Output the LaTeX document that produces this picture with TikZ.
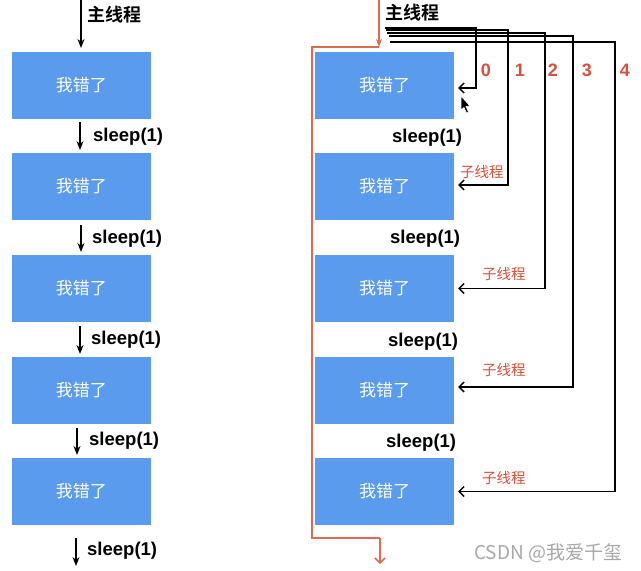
\documentclass[tikz,border=0pt]{standalone}
\usepackage{fontspec}
\setmainfont{Liberation Sans}
\newfontfamily\cjk{Noto Sans CJK SC}
\newfontfamily\cjkb{Noto Sans CJK SC}[BoldFont={* Bold}]
\usetikzlibrary{arrows.meta}
\definecolor{boxblue}{HTML}{5A9BEE}
\definecolor{redline}{HTML}{E06A4E}
\definecolor{redtext}{HTML}{D9503A}
\definecolor{wmgray}{HTML}{A8A8A8}
\begin{document}
\begin{tikzpicture}[x=1pt,y=-1pt,
  blk/.style={fill=boxblue,draw=none,minimum width=139pt,minimum height=67pt,inner sep=0pt,
    text=white,font=\cjk\fontsize{17}{19}\selectfont},
  down/.style={draw=black,line width=1.3pt,-{Stealth[length=9pt,width=7pt]}},
  lbl/.style={anchor=west,inner sep=0pt,font=\bfseries\fontsize{18.5}{20}\selectfont},
  mainlbl/.style={anchor=west,inner sep=0pt,font=\cjkb\bfseries\fontsize{18}{20}\selectfont},
  thr/.style={draw=black,line width=1.2pt,-{Straight Barb[length=5pt,width=10pt,line width=1.4pt]}},
  sub/.style={anchor=west,inner sep=0pt,text=redtext,font=\cjk\fontsize{14.5}{16}\selectfont},
  num/.style={inner sep=0pt,text=redtext,font=\bfseries\fontsize{18}{20}\selectfont},
  redp/.style={draw=redline,line width=1.5pt}]
\useasboundingbox (0,0) rectangle (641,571);
\fill[white] (0,0) rectangle (641,571);

% ---------- left column ----------
\node[blk] (l1) at (81.5,85.5) {我错了};
\node[blk] (l2) at (81.5,186.5) {我错了};
\node[blk] (l3) at (81.5,288.5) {我错了};
\node[blk] (l4) at (81.5,390.5) {我错了};
\node[blk] (l5) at (81.5,491.5) {我错了};

\coordinate (lm0) at (81,0);
\coordinate (lm1) at (81,48);
\draw[down] (lm0) -- (lm1);
\node[mainlbl] (lmt) at (87,15) {主线程};

\coordinate (a1s) at (80,122); \coordinate (a1e) at (80,150);
\coordinate (a2s) at (81,225); \coordinate (a2e) at (81,252);
\coordinate (a3s) at (80,326); \coordinate (a3e) at (80,354);
\coordinate (a4s) at (77,428); \coordinate (a4e) at (77,455);
\coordinate (a5s) at (76,538); \coordinate (a5e) at (76,566);
\draw[down] (a1s) -- (a1e);
\draw[down] (a2s) -- (a2e);
\draw[down] (a3s) -- (a3e);
\draw[down] (a4s) -- (a4e);
\draw[down] (a5s) -- (a5e);
\node[lbl] (ls1) at (93,137) {sleep(1)};
\node[lbl] (ls2) at (92,239) {sleep(1)};
\node[lbl] (ls3) at (91,340) {sleep(1)};
\node[lbl] (ls4) at (89,441) {sleep(1)};
\node[lbl] (ls5) at (87,551) {sleep(1)};

% ---------- right column ----------
\node[blk] (r1) at (384.5,85.5) {我错了};
\node[blk] (r2) at (384.5,186.5) {我错了};
\node[blk] (r3) at (384.5,288.5) {我错了};
\node[blk] (r4) at (384.5,390.5) {我错了};
\node[blk] (r5) at (384.5,491.5) {我错了};

\node[mainlbl] (rmt) at (385,13) {主线程};

\node[lbl] (rs1) at (392,138) {sleep(1)};
\node[lbl] (rs2) at (390,239) {sleep(1)};
\node[lbl] (rs3) at (388,342) {sleep(1)};
\node[lbl] (rs4) at (386,443) {sleep(1)};

% red main thread path
\coordinate (m0) at (379,0);
\coordinate (m1) at (379,47);
\coordinate (m2) at (312,47);
\coordinate (m3) at (312,538);
\coordinate (m4) at (380,538);
\coordinate (m5) at (380,564);
\draw[redp,-{Stealth[length=8pt,width=6pt]}] (m0) -- (m1);
\draw[redp] (m1) -- (m2) -- (m3) -- (m4);
\draw[redp,-{Straight Barb[length=5pt,width=10pt,line width=1.5pt]}] (m4) -- (m5);

% thread lines
\coordinate (t0) at (385,28);
\coordinate (t1) at (386,30);
\coordinate (t2) at (387,33);
\coordinate (t3) at (389,36);
\coordinate (t4) at (390,42);
\draw[thr] (t0) -- (476,28) |- ([xshift=4pt,yshift=-2.5pt]r1.east);
\draw[thr] (t1) -- (508,30) |- ([xshift=4pt,yshift=1.5pt]r2.east);
\draw[thr] (t2) -- (545,33) |- ([xshift=4pt]r3.east);
\draw[thr] (t3) -- (573,36) |- ([xshift=4pt,yshift=3.5pt]r4.east);
\draw[thr] (t4) -- (615,42) |- ([xshift=4pt]r5.east);

\node[num] (n0) at (486,70) {0};
\node[num] (n1) at (520,70) {1};
\node[num] (n2) at (553,70) {2};
\node[num] (n3) at (587,70) {3};
\node[num] (n4) at (625,70) {4};

\node[sub] (st1) at (460,172) {子线程};
\node[sub] (st2) at (482,274) {子线程};
\node[sub] (st3) at (482,370) {子线程};
\node[sub] (st4) at (482,478) {子线程};

% mouse cursor
\filldraw[fill=black,draw=white,line width=0.6pt] (461,96) -- (461,110) -- (464,107.5) -- (466.5,113) -- (468.5,112) -- (466,106.5) -- (470,106) -- cycle;

% watermark
\node[anchor=west,inner sep=0pt,text=wmgray,font=\cjk\fontsize{19}{21}\selectfont] (wm) at (474,553) {CSDN @我爱千玺};
\end{tikzpicture}
\end{document}
